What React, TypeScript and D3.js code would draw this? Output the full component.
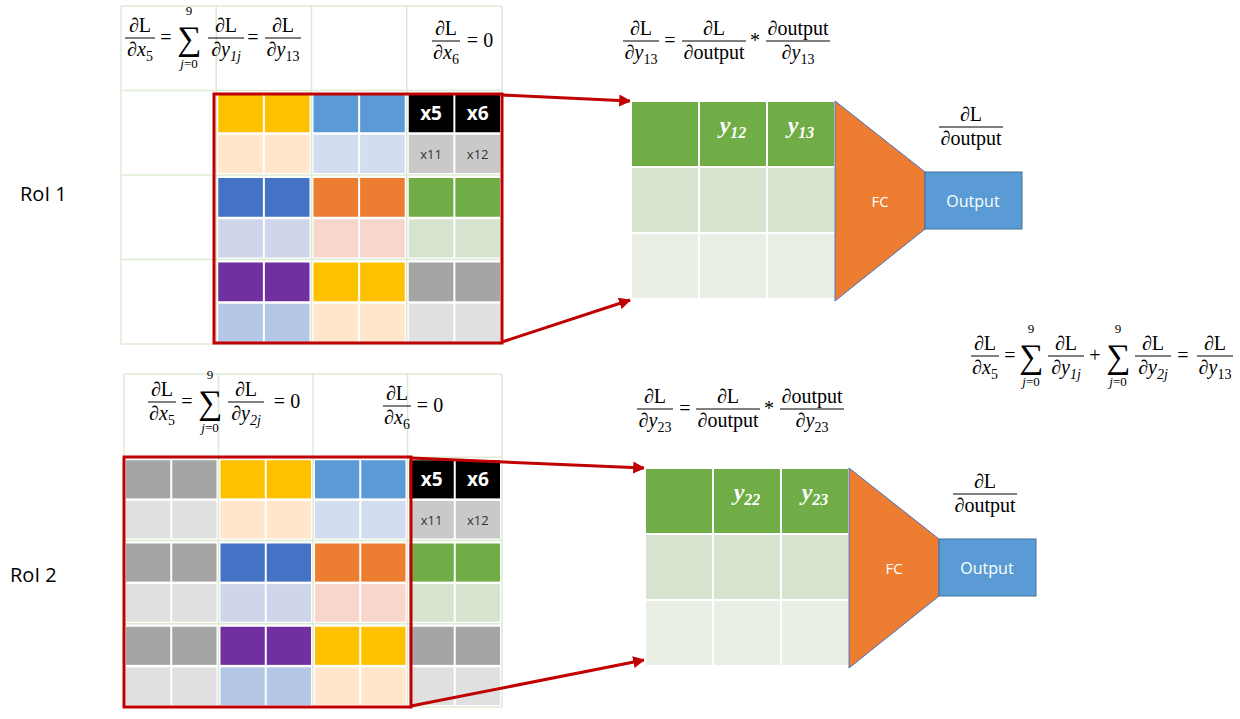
import React from "react";
import * as d3 from "d3";

const C = {
  yel: "#FFC000", yelL: "#FFE6CC", blu: "#5B9BD5", bluL: "#D2DEEF", blk: "#000000", gryM: "#C9C9C9",
  dbl: "#4472C4", dblL: "#CFD5EA", org: "#ED7D31", orgL: "#F8D6CC", grn: "#70AD47", grnL: "#D5E3CF",
  pur: "#7030A0", purL: "#B4C7E7", gry: "#A5A5A5", gryL: "#E0E0E0",
};
// each cell: [top color, bottom color]
const topGrid: [string, string][][] = [
  [[C.yel, C.yelL], [C.blu, C.bluL], [C.blk, C.gryM]],
  [[C.dbl, C.dblL], [C.org, C.orgL], [C.grn, C.grnL]],
  [[C.pur, C.purL], [C.yel, C.yelL], [C.gry, C.gryL]],
];
const botGrid: [string, string][][] = [
  [[C.gry, C.gryL], [C.yel, C.yelL], [C.blu, C.bluL], [C.blk, C.gryM]],
  [[C.gry, C.gryL], [C.dbl, C.dblL], [C.org, C.orgL], [C.grn, C.grnL]],
  [[C.gry, C.gryL], [C.pur, C.purL], [C.yel, C.yelL], [C.gry, C.gryL]],
];
const topLabels = ["x5", "x6"];
const subLabels = ["x11", "x12"];
const tableRows = [C.grn, "#D5E3CF", "#E9EFE5"];
const roiLabels = ["RoI 1", "RoI 2"];

const SERIF = "'Liberation Serif', 'DejaVu Serif', serif";
const SANS = "'Open Sans', 'Liberation Sans', sans-serif";
const RED = "#C00000";
const GRIDC = "#DCEBD3";
const FS = 20;

function Sym({ v, s, sub, size }: { v: string; s?: boolean; sub?: string; size: number }) {
  return (
    <>
      <tspan fontSize={size} fontStyle={s ? "italic" : "normal"}>{v}</tspan>
      {sub && <tspan fontSize={size * 0.7} dy={size * 0.22} fontStyle={/[a-z]/.test(sub) ? "italic" : "normal"}>{sub}</tspan>}
    </>
  );
}

function Frac({ x, y, w, num, den, size = FS }: any) {
  return (
    <g fontFamily={SERIF} fontSize={size} textAnchor="middle">
      <text x={x} y={y - 6} fontSize={size}>{num}</text>
      <line x1={x - w / 2} x2={x + w / 2} y1={y} y2={y} stroke="#000" strokeWidth={1} />
      <text x={x} y={y + size * 0.92} fontSize={size}>{den}</text>
    </g>
  );
}
function Sig({ x, y, size = FS }: any) {
  return (
    <g fontFamily={SERIF} textAnchor="middle">
      <text x={x} y={y + 12} fontSize={size * 1.7}>∑</text>
      <text x={x} y={y - 23} fontSize={size * 0.65}>9</text>
      <text x={x} y={y + 30} fontSize={size * 0.65}><tspan fontSize={size * 0.65} fontStyle="italic">j</tspan>=0</text>
    </g>
  );
}
function T({ x, y, t, size = FS, anchor = "middle" }: any) {
  return <text x={x} y={y + 6} fontFamily={SERIF} fontSize={size} textAnchor={anchor}>{t}</text>;
}
const dL = (size = FS) => <Sym v="∂L" size={size} />;
const dX = (n: string, size = FS) => <><tspan fontSize={size}>∂</tspan><Sym v="x" s sub={n} size={size} /></>;
const dY = (n: string, size = FS) => <><tspan fontSize={size}>∂</tspan><Sym v="y" s sub={n} size={size} /></>;
const dOut = <tspan fontSize={FS}>∂output</tspan>;

function Grid({ x0, x1, y0, y1, grid, red }: any) {
  const ncol = grid[0].length;
  const outerX = d3.scaleLinear().domain([0, 4]).range([x0, x1]);
  const cols = d3.range(5).map((i) => outerX(i));
  const rows = d3.scaleLinear().domain([0, 4]).range([y0, y1]);
  const startCol = 4 - ncol;
  const cells: any[] = [];
  grid.forEach((row: any, ri: number) =>
    row.forEach((cell: any, ci: number) => {
      const cx0 = cols[startCol + ci] + 2, cx1 = cols[startCol + ci + 1] - 2;
      const ry0 = rows(ri + 1) + 3, ry1 = rows(ri + 2) - 2;
      const hm = (ry0 + ry1) / 2;
      const xm = (cx0 + cx1) / 2;
      [[ry0, hm - 1, cell[0]], [hm + 1.5, ry1, cell[1]]].forEach(([a, b, col]: any, k) => {
        [[cx0, xm - 1], [xm + 1, cx1]].forEach(([l, r], j) => {
          cells.push(<rect key={`${ri}-${ci}-${k}-${j}`} x={l} y={a} width={r - l} height={b - a} fill={col} />);
          if (col === C.blk)
            cells.push(<text key={`t${ri}${ci}${j}`} x={(l + r) / 2} y={(a + b) / 2 + 7} fill="#fff" fontFamily={SANS} fontWeight="bold" fontSize={19} textAnchor="middle">{topLabels[j]}</text>);
          if (col === C.gryM)
            cells.push(<text key={`s${ri}${ci}${j}`} x={(l + r) / 2} y={(a + b) / 2 + 5} fill="#333" fontFamily={SANS} fontSize={13} textAnchor="middle">{subLabels[j]}</text>);
        });
      });
    })
  );
  return (
    <g>
      {cols.map((c, i) => <line key={"v" + i} x1={c} x2={c} y1={y0} y2={y1} stroke={GRIDC} strokeWidth={1.5} />)}
      {d3.range(5).map((i) => <line key={"h" + i} x1={x0} x2={x1} y1={rows(i)} y2={rows(i)} stroke={GRIDC} strokeWidth={1.5} />)}
      {cells}
      <rect x={red[0]} y={red[1]} width={red[2] - red[0]} height={red[3] - red[1]} fill="none" stroke={RED} strokeWidth={3} />
    </g>
  );
}

function Head({ x0, y0, labels }: any) {
  const xs = d3.scaleBand().domain(["0", "1", "2"]).range([x0, x0 + 204]);
  const ys = d3.scaleBand().domain(["0", "1", "2"]).range([y0, y0 + 198]);
  const trap = [[x0 + 204, y0], [x0 + 294, y0 + 71], [x0 + 294, y0 + 128], [x0 + 204, y0 + 200]];
  return (
    <g>
      {tableRows.map((col, r) =>
        ["0", "1", "2"].map((c) => (
          <rect key={r + c} x={xs(c)!} y={ys(String(r))!} width={xs.bandwidth()} height={ys.bandwidth()} fill={col} stroke="#fff" strokeWidth={2} />
        ))
      )}
      {labels.map((l: string, i: number) => (
        <text key={l} x={xs(String(i + 1))! + xs.bandwidth() / 2} y={ys("0")! + 32} fill="#fff" fontFamily={SERIF} fontStyle="italic" fontWeight="bold" fontSize={24} textAnchor="middle">
          y<tspan fontSize={16} dy={5}>{l}</tspan>
        </text>
      ))}
      <polygon points={trap.map((p) => p.join(",")).join(" ")} fill={C.org} stroke="#4472C4" strokeWidth={1} />
      <text x={x0 + 249} y={y0 + 106} fill="#fff" fontFamily={SANS} fontSize={15} textAnchor="middle">FC</text>
      <rect x={x0 + 294} y={y0 + 71} width={97} height={57} fill={C.blu} stroke="#41719C" strokeWidth={1} />
      <text x={x0 + 342} y={y0 + 106} fill="#fff" fontFamily={SANS} fontSize={16} textAnchor="middle">Output</text>
      <Frac x={x0 + 340} y={y0 + 26} w={64} num={dL()} den={dOut} />
    </g>
  );
}

function Arrow({ x1, y1, x2, y2 }: any) {
  return <line x1={x1} y1={y1} x2={x2} y2={y2} stroke={RED} strokeWidth={3} markerEnd="url(#ah)" />;
}

export default function App() {
  return (
    <svg width={1240} height={719} style={{ display: "block", position: "absolute", left: 0, top: 0, background: "#fff" }}>
      <defs>
        <marker id="ah" viewBox="0 0 10 10" refX={9} refY={5} markerWidth={4} markerHeight={4} orient="auto">
          <path d="M0,0 L10,5 L0,10 z" fill={RED} />
        </marker>
      </defs>
      <rect width={1240} height={719} fill="#fff" />
      <text x={20} y={201} fontFamily={SANS} fontSize={20}>{roiLabels[0]}</text>
      <text x={10} y={582} fontFamily={SANS} fontSize={20}>{roiLabels[1]}</text>

      <Grid x0={121} x1={502} y0={6} y1={344} grid={topGrid} red={[214, 94, 502, 343]} />
      <Grid x0={124} x1={502} y0={374} y1={707} grid={botGrid} red={[124, 457, 411, 707]} />

      <Arrow x1={502} y1={95} x2={630} y2={101} />
      <Arrow x1={502} y1={342} x2={630} y2={300} />
      <Arrow x1={411} y1={458} x2={644} y2={468} />
      <Arrow x1={411} y1={706} x2={644} y2={660} />

      <Head x0={631} y0={101} labels={["12", "13"]} />
      <Head x0={645} y0={468} labels={["22", "23"]} />

      {/* top-left formula */}
      <Frac x={140} y={38} w={30} num={dL()} den={dX("5")} />
      <T x={166} y={38} t="=" />
      <Sig x={189} y={38} />
      <Frac x={226} y={38} w={36} num={dL()} den={dY("1j")} />
      <T x={253} y={38} t="=" />
      <Frac x={283} y={38} w={36} num={dL()} den={dY("13")} />
      <Frac x={446} y={41} w={28} num={dL()} den={dX("6")} />
      <T x={480} y={41} t="= 0" />

      {/* top middle formula */}
      <Frac x={641} y={41} w={36} num={dL()} den={dY("13")} />
      <T x={670} y={41} t="=" />
      <Frac x={714} y={41} w={64} num={dL()} den={dOut} />
      <T x={755} y={41} t="*" />
      <Frac x={798} y={41} w={64} num={dOut} den={dY("13")} />

      {/* right formula */}
      <Frac x={985} y={356} w={28} num={dL()} den={dX("5")} />
      <T x={1010} y={356} t="=" />
      <Sig x={1031} y={356} />
      <Frac x={1066} y={356} w={36} num={dL()} den={dY("1j")} />
      <T x={1095} y={356} t="+" />
      <Sig x={1118} y={356} />
      <Frac x={1153} y={356} w={36} num={dL()} den={dY("2j")} />
      <T x={1183} y={356} t="=" />
      <Frac x={1215} y={356} w={36} num={dL()} den={dY("13")} />

      {/* bottom-left formula */}
      <Frac x={162} y={402} w={28} num={dL()} den={dX("5")} />
      <T x={187} y={402} t="=" />
      <Sig x={210} y={402} />
      <Frac x={246} y={402} w={36} num={dL()} den={dY("2j")} />
      <T x={287} y={402} t="= 0" />
      <Frac x={397} y={406} w={28} num={dL()} den={dX("6")} />
      <T x={430} y={406} t="= 0" />

      {/* bottom middle formula */}
      <Frac x={655} y={409} w={36} num={dL()} den={dY("23")} />
      <T x={685} y={409} t="=" />
      <Frac x={728} y={409} w={64} num={dL()} den={dOut} />
      <T x={769} y={409} t="*" />
      <Frac x={812} y={409} w={64} num={dOut} den={dY("23")} />
    </svg>
  );
}
